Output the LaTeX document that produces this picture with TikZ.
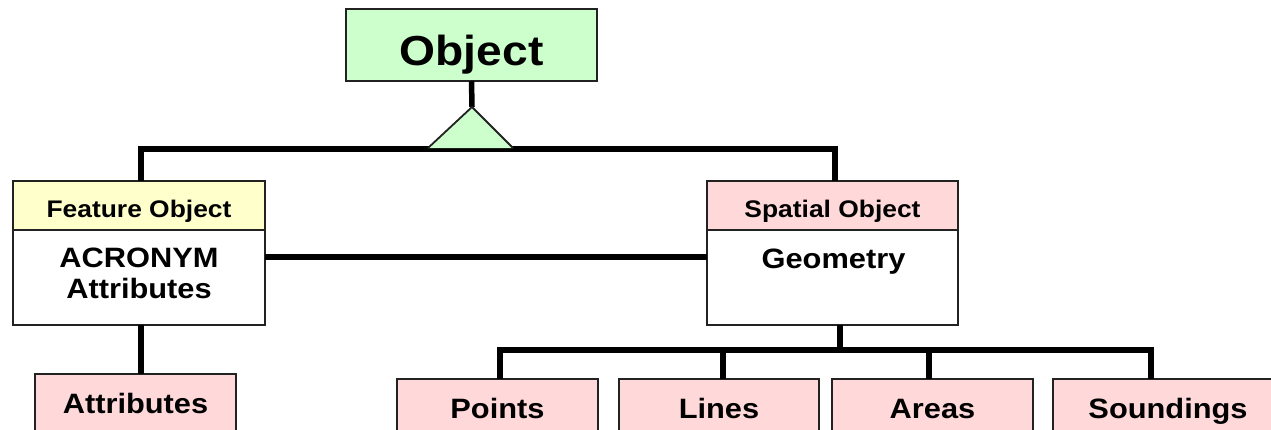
\documentclass[tikz,border=0pt]{standalone}
\usepackage{fontspec}
\setmainfont{Liberation Sans}[FakeStretch=1.1]
\definecolor{objgreen}{HTML}{CCFFCC}
\definecolor{featyellow}{HTML}{FFFFCC}
\definecolor{spatpink}{HTML}{FFD9D9}
\definecolor{edgegray}{HTML}{222222}
\tikzset{
  box/.style={draw=edgegray, line width=1.8pt, rectangle, inner sep=0pt, outer sep=0pt, font=\bfseries},
  headbox/.style={box, minimum height=49pt, font=\bfseries\fontsize{24}{28}\selectfont, text height=23pt, text depth=0pt},
  bodybox/.style={box, fill=white, minimum height=95pt},
  leafbox/.style={box, fill=spatpink, anchor=north, minimum height=58pt, font=\bfseries\fontsize{28}{32}\selectfont, text height=20pt, text depth=0pt},
  bodytext/.style={anchor=base, inner sep=0pt, font=\bfseries\fontsize{28}{32}\selectfont},
  bar/.style={line width=5.5pt, black, line cap=butt},
}
\begin{document}
\begin{tikzpicture}[x=1pt,y=-1pt]
\useasboundingbox (0,0) rectangle (1271,429);
\fill[white] (0,0) rectangle (1271,429);
\clip (0,0) rectangle (1271,429);

% top object
\node[box, fill=objgreen, minimum width=251pt, minimum height=72pt,
      font=\bfseries\fontsize{42}{48}\selectfont, text height=40pt, text depth=0pt]
      (obj) at (471.5,45) {Object};

% feature object
\node[headbox, fill=featyellow, minimum width=252pt] (fhead) at (139,205.5) {Feature Object};
\node[bodybox, minimum width=252pt] (fbody) at (139,277.5) {};
\node[bodytext] (acr1) at (139,267) {ACRONYM};
\node[bodytext] (acr2) at (139,298) {Attributes};

% spatial object
\node[headbox, fill=spatpink, minimum width=251pt] (shead) at (832.5,205.5) {Spatial Object};
\node[bodybox, minimum width=251pt] (sbody) at (832.5,277.5) {};
\node[bodytext] (geo) at (833.5,268) {Geometry};

% leaves
\node[leafbox, minimum width=201pt] (attr) at (135.5,374) {Attributes};
\node[leafbox, minimum width=201pt] (pts) at (497.5,379) {Points};
\node[leafbox, minimum width=200pt] (lin) at (719,379) {Lines};
\node[leafbox, minimum width=201pt] (are) at (932.5,379) {Areas};
\node[leafbox, minimum width=230pt] (snd) at (1168,379) {Soundings};

% generalisation connector
\coordinate (apex) at (472,107);
\coordinate (tl) at (428,148);
\coordinate (tr) at (513,148);
\coordinate (jl) at (141,149);
\draw[bar] (obj.south) -- (apex);
\draw[bar] ([xshift=2pt]fhead.north) -- ([xshift=2pt]fhead.north |- jl) -| ([xshift=2.5pt]shead.north);
\filldraw[fill=objgreen, draw=edgegray, line width=1.8pt, line join=miter] (tl) -- (apex) -- (tr);

% association
\coordinate (ly) at (0,257);
\draw[bar] (fbody.east |- ly) -- (sbody.west |- ly);

% attributes
\draw[bar] ([xshift=2pt]fbody.south) -- ([xshift=2pt]fbody.south |- attr.north);

% geometry types
\coordinate (hub) at (840,350);
\draw[bar] (sbody.south -| hub) -- (hub);
\draw[bar] ([xshift=2.5pt]pts.north) -- ([xshift=2.5pt]pts.north |- hub) -| ([xshift=-17pt]snd.north);
\draw[bar] ([xshift=4pt]lin.north) -- ([xshift=4pt]lin.north |- hub);
\draw[bar] ([xshift=-3.5pt]are.north) -- ([xshift=-3.5pt]are.north |- hub);
\end{tikzpicture}
\end{document}
